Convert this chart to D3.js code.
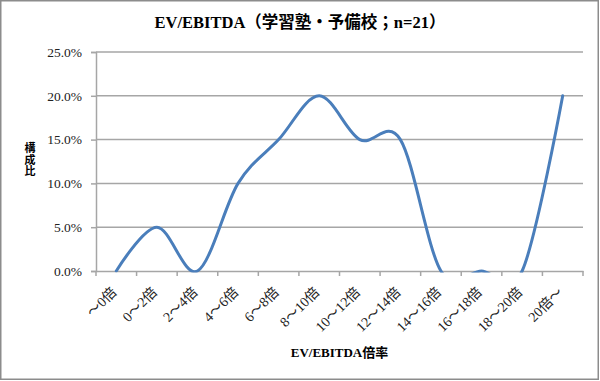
<!DOCTYPE html>
<html><head><meta charset="utf-8">
<script src="https://cdn.jsdelivr.net/npm/d3@7"></script>
<style>body{margin:0;background:#fff}</style>
</head><body>
<svg id="c" width="600" height="381"></svg>
<script>
const categories = ["～0倍","0～2倍","2～4倍","4～6倍","6～8倍","8～10倍","10～12倍","12～14倍","14～16倍","16～18倍","18～20倍","20倍～"];
const values = [0, 0.05, 0, 0.10, 0.15, 0.20, 0.15, 0.15, 0, 0, 0, 0.20];
const yTicks = [0, 0.05, 0.10, 0.15, 0.20, 0.25];
const title = "EV/EBITDA（学習塾・予備校；n=21）";
const xTitle = "EV/EBITDA倍率";
const yTitle = "構成比";

const serif = "'Liberation Serif','DejaVu Serif','Noto Sans CJK JP',serif";
const svg = d3.select("#c");
svg.append("rect").attr("x",0.75).attr("y",0.75).attr("width",597.5).attr("height",378.5)
  .attr("fill","#fff").attr("stroke","#8c8c8c").attr("stroke-width",1.5);

const L=96, R=583, T=52, B=271;
const x = d3.scaleBand().domain(categories).range([L,R]);
const y = d3.scaleLinear().domain([0,0.25]).range([B,T]);

// gridlines
svg.append("g").selectAll("line").data(yTicks.filter(d=>d>0)).join("line")
  .attr("x1",L).attr("x2",R).attr("y1",d=>y(d)).attr("y2",d=>y(d))
  .attr("stroke","#a6a6a6").attr("stroke-width",1.5);

// y axis
const ya = svg.append("g").attr("transform",`translate(${L},0)`)
  .call(d3.axisLeft(y).tickValues(yTicks).tickFormat(d3.format(".1%")).tickSize(5).tickPadding(9));
ya.select(".domain").attr("stroke","#a6a6a6").attr("stroke-width",1.5);
ya.selectAll(".tick line").attr("stroke","#a6a6a6").attr("stroke-width",1.5);
ya.selectAll("text").attr("font-family",serif).attr("font-size",13.5).attr("fill","#222");

// x axis
const xa = svg.append("g").attr("transform",`translate(0,${B})`)
  .call(d3.axisBottom(x).tickSize(0).tickSizeOuter(0));
xa.select(".domain").attr("stroke","#a6a6a6").attr("stroke-width",1.5);
xa.selectAll(".tick line").remove();
xa.selectAll(".tick text")
  .attr("font-family",serif).attr("font-size",14).attr("fill","#222")
  .attr("text-anchor","end").attr("dy",0).attr("y",0)
  .attr("transform","translate(1,22) rotate(-45)");
// boundary ticks
const bounds = categories.map(c=>x(c)).concat([R]);
svg.append("g").selectAll("line").data(bounds).join("line")
  .attr("x1",d=>d).attr("x2",d=>d).attr("y1",B).attr("y2",B+5)
  .attr("stroke","#a6a6a6").attr("stroke-width",1.5);

// clip
svg.append("clipPath").attr("id","pc").append("rect")
  .attr("x",L).attr("y",T-2).attr("width",R-L+2).attr("height",B-T+3.5);

const line = d3.line().x((d,i)=>x(categories[i])+x.bandwidth()/2).y(d=>y(d))
  .curve(d3.curveCardinal.tension(0));
svg.append("path").datum(values).attr("d",line).attr("clip-path","url(#pc)")
  .attr("fill","none").attr("stroke","#4a7ebb").attr("stroke-width",3).attr("stroke-linecap","round");

// titles
svg.append("text").attr("x",300).attr("y",28).attr("text-anchor","middle")
  .attr("font-family",serif).attr("font-weight","bold").attr("font-size",16.5).text(title);
svg.append("text").attr("x",(L+R)/2).attr("y",357).attr("text-anchor","middle")
  .attr("font-family",serif).attr("font-weight","bold").attr("font-size",13).text(xTitle);
svg.append("g").selectAll("text").data(yTitle.split("")).join("text")
  .attr("x",30).attr("y",(d,i)=>152+i*11.5).attr("text-anchor","middle")
  .attr("font-family",serif).attr("font-weight","bold").attr("font-size",11).text(d=>d);
</script>
</body></html>
